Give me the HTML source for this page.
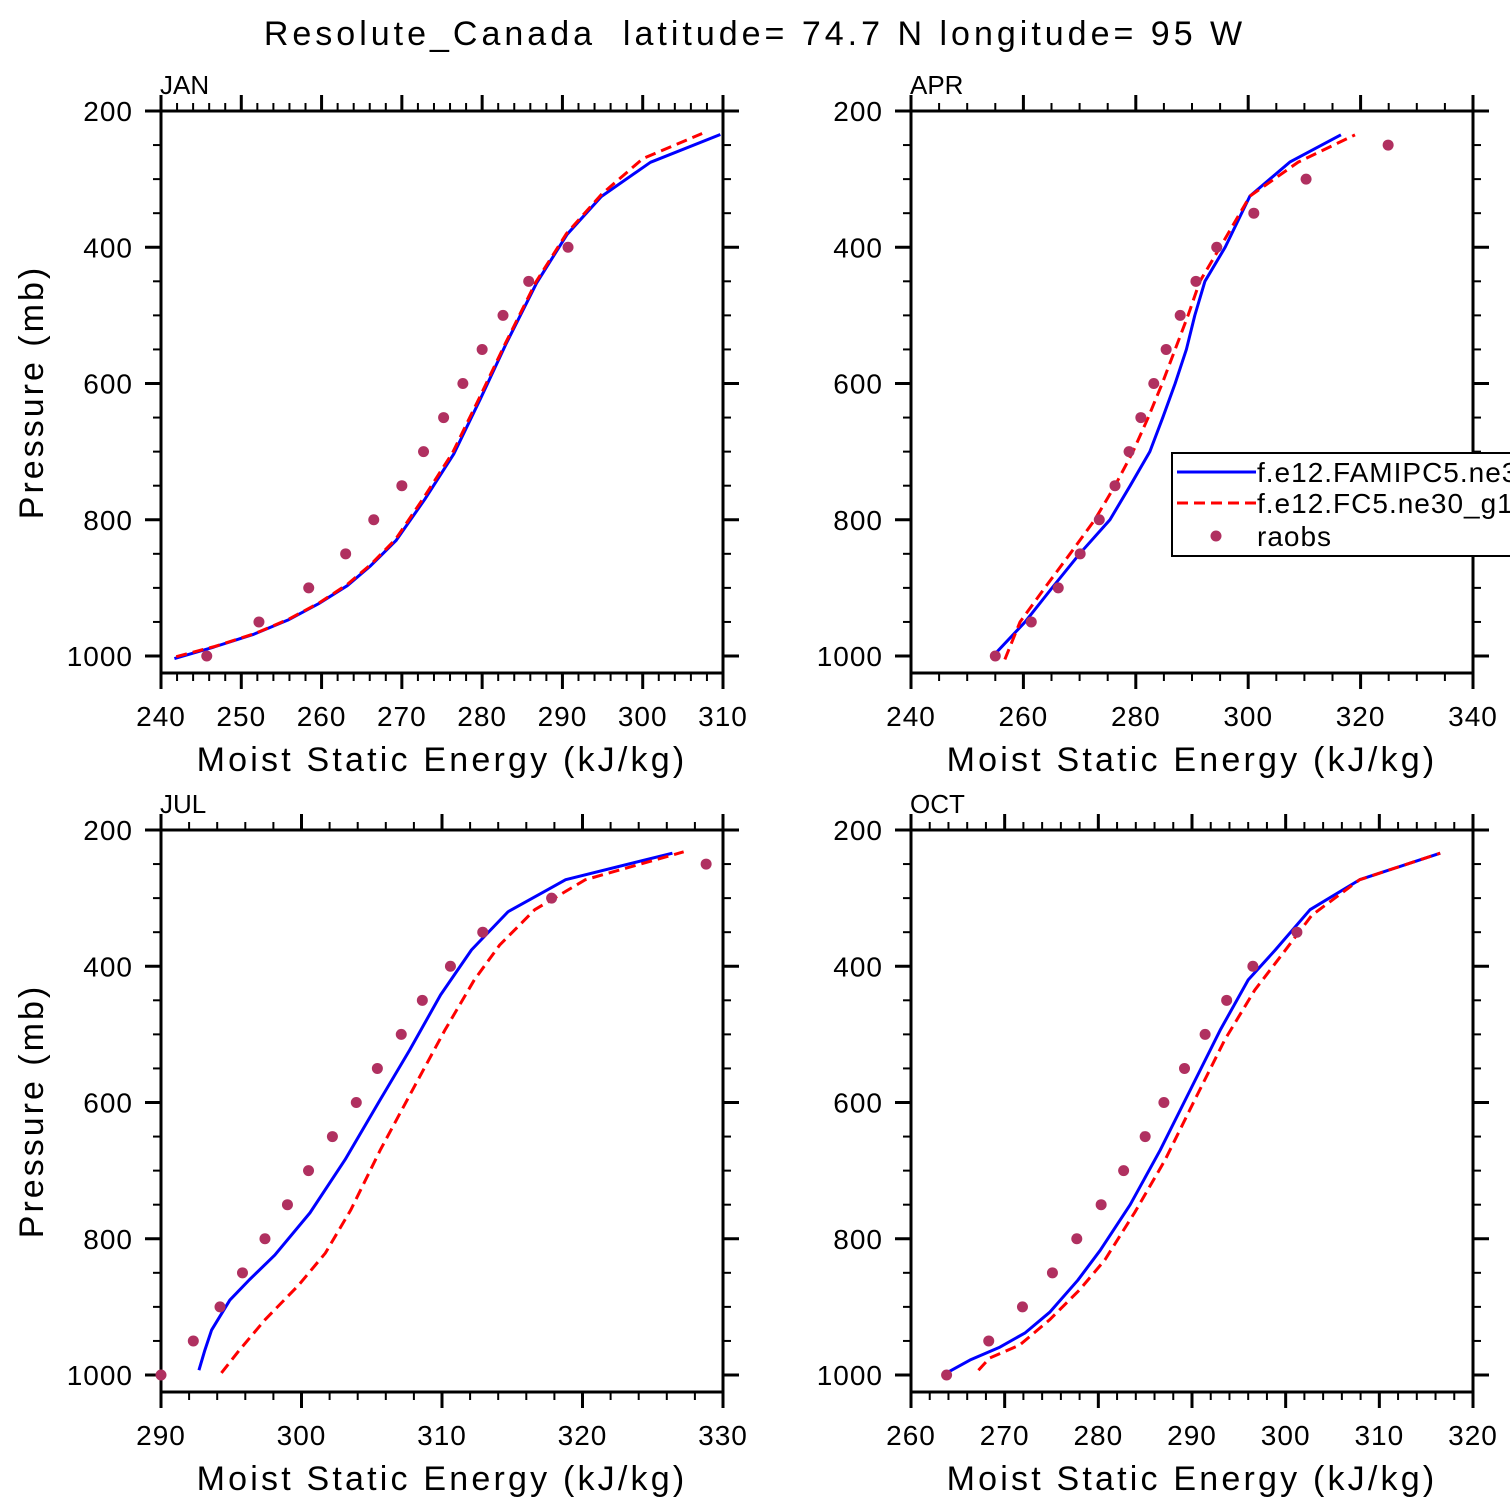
<!DOCTYPE html>
<html><head><meta charset="utf-8">
<style>
html,body{margin:0;padding:0;background:#fff;width:1510px;height:1510px;overflow:hidden}
svg{display:block}
text{font-family:"Liberation Sans",sans-serif;fill:#000;white-space:pre}
</style></head>
<body>
<svg id="chart" width="1510" height="1510" viewBox="0 0 1510 1510">
<text x="755" y="45" text-anchor="middle" font-size="34" letter-spacing="4" xml:space="preserve">Resolute_Canada  latitude= 74.7 N longitude= 95 W</text>
</svg>
<script>
// ---- Data ----
const obsP = [1000,950,900,850,800,750,700,650,600,550,500,450,400,350,300,250];
const janObs = [245.7,252.2,258.4,263,266.5,270,272.7,275.2,277.6,280,282.6,285.8,290.7];
const aprObs = [255,261.4,266.2,270.1,273.5,276.3,278.8,280.9,283.2,285.4,287.9,290.7,294.4,301,310.3,324.9];
const julObs = [290,292.3,294.2,295.8,297.4,299,300.5,302.2,303.9,305.4,307.1,308.6,310.6,312.9,317.8,328.8];
const octObs = [263.8,268.3,271.9,275.1,277.7,280.3,282.7,285,287,289.2,291.4,293.7,296.5,301.2];

const janBlueP = [1003.7,986.8,968.1,947.2,923.2,896.8,867.7,830.6,769.8,703.6,621.7,542,452.5,381,325.5,275.3,234.5];
const janBlueX = [241.67,246.6,251.55,255.82,259.63,263.2,266.1,269.27,272.87,276.46,279.82,282.97,286.78,290.59,294.85,300.96,309.67];
const janRedP = [1001,986,967,946,922,895,866,829,768,702,620,541,451,380,322,270,233];
const janRedX = [241.9,246.7,251.7,255.9,259.7,263.2,266.1,269.2,272.7,276.3,279.7,282.9,286.7,290.5,294.9,300.0,307.4];

const aprBlueP = [1000,950,900,850,800,750,700,650,600,550,500,450,400,325,275,235];
const aprBlueX = [254.6,260.3,265.1,270,275.4,279,282.5,284.8,287,289,290.5,292.3,295.9,300.3,307.4,316.5];
const aprRedP = [1005,950,900,850,800,750,700,650,600,550,500,450,400,325,275,235];
const aprRedX = [256.7,259.4,263.8,268.3,272.7,276.3,279.5,282.2,284.7,287,289.3,291.4,295,300.3,308.9,319];

const julBlueP = [993,965,934,890,860,824,762,684,596,523,442,376,320,273,234];
const julBlueX = [292.7,293.1,293.6,294.9,296.3,298.1,300.6,303.1,305.6,307.7,309.9,312.1,314.7,318.8,326.4];
const julRedP = [997,963,919,868,821,758,670,574,494,420,369,317,273,232];
const julRedX = [294.3,295.6,297.4,299.8,301.7,303.5,305.6,308.1,310.2,312.3,314.1,316.6,320.2,327.2];

const octBlueP = [997,978,959,938,908,861,817,750,670,582,494,420,376,317,273,234];
const octBlueX = [263.8,266.3,269.5,272.2,274.8,277.8,280.2,283.4,286.6,289.8,293,296,298.9,302.6,307.9,316.5];
const octRedP = [993,975,956,919,875,831,761,685,596,508,435,383,325,273,234];
const octRedX = [267.2,268.4,271.6,274.8,278,280.7,283.9,287.1,290.3,293.5,296.7,299.6,302.8,307.9,316.5];

const janXTicks = [240,250,260,270,280,290,300,310];
const aprXTicks = [240,260,280,300,320,340];
const julXTicks = [290,300,310,320,330];
const octXTicks = [260,270,280,290,300,310,320];
const yTicks = [200,400,600,800,1000];

const NS = "http://www.w3.org/2000/svg";
const svg = document.getElementById('chart');
function mk(tag, attrs, parent){
  const e = document.createElementNS(NS, tag);
  for (const k in attrs) e.setAttribute(k, attrs[k]);
  (parent||svg).appendChild(e);
  return e;
}

function panel(o){
  const L=o.left, R=o.left+562, T=o.top, B=o.top+562;
  const g = mk('g',{});
  
  
  const xs = v => L + (v-o.xmin)/(o.xmax-o.xmin)*562;
  const ys = p => T + (p-200)*0.68125;
  const cp = mk('clipPath',{id:'clip-'+o.name}, g);
  mk('rect',{x:L,y:T,width:562,height:562},cp);
  const box = mk('rect',{x:L,y:T,width:562,height:562,fill:'none',stroke:'#000','stroke-width':3},g);
  
  
  for (let v=o.xmin; v<=o.xmax+1e-6; v+=o.minor){
    const major = o.xticks.some(t=>Math.abs(t-v)<1e-6);
    const len = major?16:8, x=xs(v);
    mk('line',{x1:x,y1:B,x2:x,y2:B+len,stroke:'#000','stroke-width':major?3:2},g);
    mk('line',{x1:x,y1:T,x2:x,y2:T-len,stroke:'#000','stroke-width':major?3:2},g);
  }
  o.xticks.forEach(v=>{
    const t = mk('text',{x:xs(v),y:B+53,'text-anchor':'middle','font-size':28,'letter-spacing':1},g);
    t.textContent = v;
    
    
  });
  for (let p=200; p<=1000; p+=50){
    const major = p%200===0;
    const len = major?16:8, y=ys(p);
    mk('line',{x1:L,y1:y,x2:L-len,y2:y,stroke:'#000','stroke-width':major?3:2},g);
    mk('line',{x1:R,y1:y,x2:R+len,y2:y,stroke:'#000','stroke-width':major?3:2},g);
  }
  yTicks.forEach(p=>{
    const t = mk('text',{x:L-28,y:ys(p)+10,'text-anchor':'end','font-size':28,'letter-spacing':1},g);
    t.textContent = p;
    
    
  });
  const mt = mk('text',{x:L-1,y:T-17,'font-size':26},g);
  mt.textContent = o.label;
  
  
  const xt = mk('text',{x:L+281,y:B+98,'text-anchor':'middle','font-size':34,'letter-spacing':3.2},g);
  xt.textContent = 'Moist Static Energy (kJ/kg)';
  
  
  if (o.ytitle){
    const yt = mk('text',{x:0,y:0,'text-anchor':'middle','font-size':34,'letter-spacing':3,transform:`translate(${L-118},${T+281}) rotate(-90)`},g);
    yt.textContent = 'Pressure (mb)';
    
    
  }
  const pg = mk('g',{'clip-path':`url(#clip-${o.name})`},g);
  const blue = mk('polyline',{points:o.bx.map((v,i)=>xs(v)+','+ys(o.bp[i])).join(' '),fill:'none',stroke:'#0000ff','stroke-width':3,'stroke-linejoin':'round'},pg);
  
  
  const red = mk('polyline',{points:o.rx.map((v,i)=>xs(v)+','+ys(o.rp[i])).join(' '),fill:'none',stroke:'#ff0000','stroke-width':3,'stroke-dasharray':'11,6'},pg);
  
  
  o.obs.forEach((v,i)=>{
    const c = mk('circle',{cx:xs(v),cy:ys(obsP[i]),r:5.5,fill:'#b03060'},g);
    
    
  });
}

panel({name:'jan',label:'JAN',left:161,top:111,xmin:240,xmax:310,minor:2,xticks:janXTicks,ytitle:true,obs:janObs,bp:janBlueP,bx:janBlueX,rp:janRedP,rx:janRedX});
panel({name:'apr',label:'APR',left:911,top:111,xmin:240,xmax:340,minor:5,xticks:aprXTicks,ytitle:false,obs:aprObs,bp:aprBlueP,bx:aprBlueX,rp:aprRedP,rx:aprRedX});
panel({name:'jul',label:'JUL',left:161,top:830,xmin:290,xmax:330,minor:2,xticks:julXTicks,ytitle:true,obs:julObs,bp:julBlueP,bx:julBlueX,rp:julRedP,rx:julRedX});
panel({name:'oct',label:'OCT',left:911,top:830,xmin:260,xmax:320,minor:2,xticks:octXTicks,ytitle:false,obs:octObs,bp:octBlueP,bx:octBlueX,rp:octRedP,rx:octRedX});

const lg = mk('g',{});


mk('rect',{x:1172,y:453,width:360,height:103,fill:'#fff',stroke:'#000','stroke-width':2},lg);
mk('line',{x1:1177,y1:472,x2:1256,y2:472,stroke:'#0000ff','stroke-width':3},lg);
mk('line',{x1:1177,y1:503,x2:1256,y2:503,stroke:'#ff0000','stroke-width':3,'stroke-dasharray':'11,6'},lg);
mk('circle',{cx:1216,cy:536,r:5.5,fill:'#b03060'},lg);
const l1 = mk('text',{x:1257,y:482,'font-size':28,'letter-spacing':1},lg); l1.textContent='f.e12.FAMIPC5.ne30_g16';


const l2 = mk('text',{x:1257,y:513,'font-size':28,'letter-spacing':1},lg); l2.textContent='f.e12.FC5.ne30_g16';


const l3 = mk('text',{x:1257,y:546,'font-size':28,'letter-spacing':1},lg); l3.textContent='raobs';


</script>
</body></html>
